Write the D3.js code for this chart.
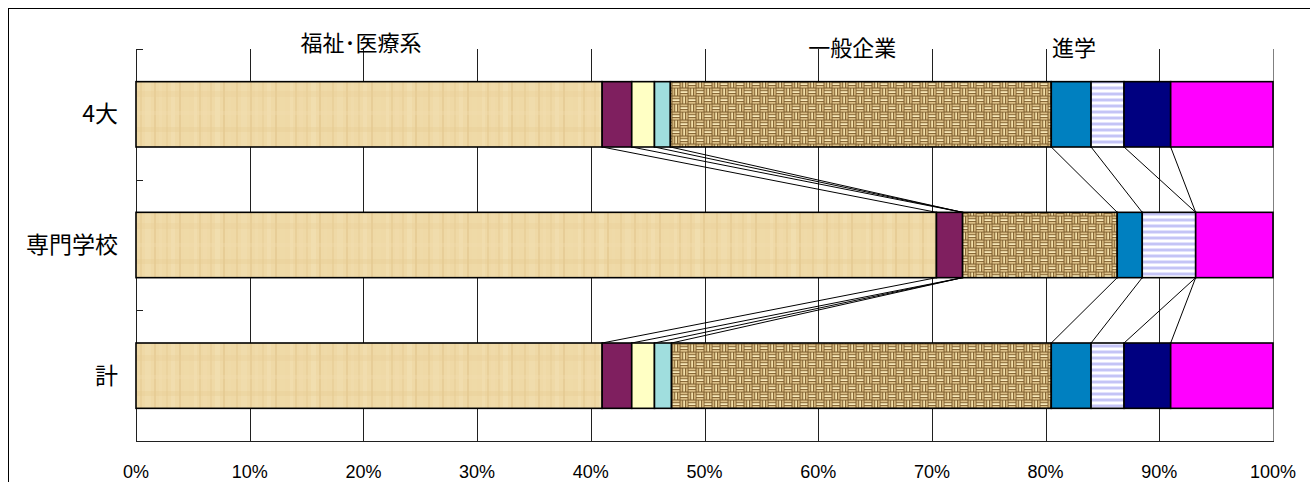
<!DOCTYPE html>
<html><head><meta charset="utf-8">
<script src="https://cdn.jsdelivr.net/npm/d3@7"></script>
<style>
html,body{margin:0;padding:0;background:#fff;}
svg{display:block;}
text{font-family:"Noto Sans CJK JP","Noto Sans",sans-serif;fill:#000;}
text.num{font-family:"Liberation Sans",Arial,sans-serif;}
</style></head>
<body>
<svg id="chart" width="1310" height="482"></svg>
<script>
// ---- data ----
const categories = ["4大", "専門学校", "計"];
const seriesKeys = ["福祉施設", "病院", "保育", "その他福祉", "一般企業", "大学", "専門学校", "その他進学", "その他"];
const values4dai   = [41.0, 2.6, 2.0, 1.4, 33.5, 3.5, 2.9, 4.1, 9.0];
const valuesSenmon = [70.4, 2.3, 0.0, 0.0, 13.6, 2.2, 4.7, 0.0, 6.8];
const valuesTotal  = [41.0, 2.6, 2.0, 1.5, 33.4, 3.5, 2.9, 4.1, 9.0];
const tickLabels = ["0%","10%","20%","30%","40%","50%","60%","70%","80%","90%","100%"];
const groupLabels = ["福祉･医療系", "一般企業", "進学"];
const groupLabelPos = [19.8, 63.0, 82.5];

// ---- styles ----
const fills = ["url(#wood)", "#7F1F5F", "#FFFFC4", "#A0DEDE", "url(#burlap)", "#0080C0", "url(#stripe)", "#000080", "#FF00FF"];

const svg = d3.select("#chart");
const mLeft = 136, mRight = 1273, mTop = 49, mBottom = 441;

// frame
svg.append("rect").attr("x", 8.5).attr("y", 8.5).attr("width", 1400).attr("height", 600)
  .attr("fill", "none").attr("stroke", "#000").attr("stroke-width", 1);

// patterns
const defs = svg.append("defs");
const wood = defs.append("pattern").attr("id", "wood").attr("patternUnits", "userSpaceOnUse")
  .attr("width", 96).attr("height", 66).attr("y", 81);
wood.append("rect").attr("width", 96).attr("height", 66).attr("fill", "#EFD9A6");
const woodStripes = [[2,3,"#F4E2B6"],[7,2,"#E3C68C"],[11,4,"#F2DDAE"],[18,2,"#E6CA92"],[23,5,"#F5E4BA"],[31,2,"#DEBF84"],[36,3,"#F1DCAB"],[44,2,"#E4C78E"],[49,6,"#F3E1B4"],[58,2,"#E0C288"],[63,3,"#F2DEAF"],[70,2,"#E7CC95"],[75,4,"#F4E3B8"],[83,2,"#DFC086"],[88,5,"#F1DBA9"]];
woodStripes.forEach(s => wood.append("rect").attr("x", s[0]).attr("y", 0).attr("width", s[1]).attr("height", 66).attr("fill", s[2]).attr("opacity", 0.45));
[[10,6,"#E8CD96"],[30,4,"#F3E0B2"],[46,5,"#E6CA90"]].forEach(s => wood.append("rect").attr("x", 0).attr("y", s[0]).attr("width", 96).attr("height", s[1]).attr("fill", s[2]).attr("opacity", 0.3));

const burlap = defs.append("pattern").attr("id", "burlap").attr("patternUnits", "userSpaceOnUse")
  .attr("width", 16).attr("height", 16);
burlap.append("rect").attr("width", 16).attr("height", 16).attr("fill", "#7E5E2E");
// horizontal strand blocks
[[0,0],[8,8]].forEach(o => {
  [0.5, 3.2, 5.9].forEach((dy, k) => burlap.append("rect").attr("x", o[0] + 0.5).attr("y", o[1] + dy)
    .attr("width", 7).attr("height", 1.8).attr("fill", k === 1 ? "#F6E6B6" : "#DCC088"));
});
// vertical strand blocks
[[8,0],[0,8]].forEach(o => {
  [0.5, 3.2, 5.9].forEach((dx, k) => burlap.append("rect").attr("x", o[0] + dx).attr("y", o[1] + 0.5)
    .attr("width", 1.8).attr("height", 7).attr("fill", k === 1 ? "#F2DFA8" : "#D2B47A"));
});

const stripe = defs.append("pattern").attr("id", "stripe").attr("patternUnits", "userSpaceOnUse")
  .attr("width", 6).attr("height", 6);
stripe.append("rect").attr("width", 6).attr("height", 6).attr("fill", "#FFFFFF");
stripe.append("rect").attr("y", 2).attr("width", 6).attr("height", 1).attr("fill", "#E2E2FC");
stripe.append("rect").attr("y", 3).attr("width", 6).attr("height", 2).attr("fill", "#C4C4F6");
stripe.append("rect").attr("y", 5).attr("width", 6).attr("height", 1).attr("fill", "#E2E2FC");

// scales
const x = d3.scaleLinear().domain([0, 100]).range([mLeft, mRight]);
const y = d3.scaleBand().domain(categories).range([mTop, mBottom]).paddingInner(0.5).paddingOuter(0.25);

// grid lines
const ticks = d3.range(0, 101, 10);
svg.append("g").selectAll("line").data(ticks.slice(1)).join("line")
  .attr("x1", d => Math.round(x(d)) + 0.5).attr("x2", d => Math.round(x(d)) + 0.5)
  .attr("y1", mTop).attr("y2", mBottom)
  .attr("stroke", d => d === 100 ? "#808080" : "#202020").attr("stroke-width", 1);

// axis lines
svg.append("line").attr("x1", mLeft + 0.5).attr("x2", mLeft + 0.5).attr("y1", mTop).attr("y2", mBottom)
  .attr("stroke", "#202020");
svg.append("line").attr("x1", mLeft).attr("x2", mRight + 1).attr("y1", mBottom + 0.5).attr("y2", mBottom + 0.5)
  .attr("stroke", "#202020");
const sepY = [mTop, mTop + y.step(), mTop + 2 * y.step(), mBottom];
svg.append("g").selectAll("line").data(sepY).join("line")
  .attr("x1", mLeft).attr("x2", mLeft + 7)
  .attr("y1", d => Math.round(d) + 0.5).attr("y2", d => Math.round(d) + 0.5)
  .attr("stroke", "#202020");

// stacked data
const rows = [values4dai, valuesSenmon, valuesTotal].map((vals, i) => {
  let acc = 0;
  return { cat: categories[i], segs: vals.map((v, j) => { const s = { key: seriesKeys[j], x0: acc, x1: acc + v, idx: j }; acc += v; return s; }) };
});

// connector lines between bars
for (let r = 0; r < rows.length - 1; r++) {
  const a = rows[r], b = rows[r + 1];
  for (let j = 0; j < seriesKeys.length - 1; j++) {
    svg.append("line")
      .attr("x1", x(a.segs[j].x1)).attr("y1", y(a.cat) + y.bandwidth())
      .attr("x2", x(b.segs[j].x1)).attr("y2", y(b.cat))
      .attr("stroke", "#000").attr("stroke-width", 1);
  }
}

// bars
rows.forEach(row => {
  svg.append("g").selectAll("rect").data(row.segs.filter(s => s.x1 - s.x0 > 0)).join("rect")
    .attr("x", s => x(s.x0)).attr("width", s => x(s.x1) - x(s.x0))
    .attr("y", y(row.cat)).attr("height", y.bandwidth())
    .attr("fill", s => fills[s.idx])
    .attr("stroke", "#000").attr("stroke-width", 1.6);
});

// category labels
svg.append("g").selectAll("text").data(categories).join("text")
  .attr("x", 118).attr("y", d => y(d) + y.bandwidth() / 2 + 8)
  .attr("text-anchor", "end").attr("font-size", 23).text(d => d);

// x tick labels
svg.append("g").selectAll("text").data(tickLabels).join("text")
  .attr("class", "num")
  .attr("x", (d, i) => x(ticks[i])).attr("y", 478)
  .attr("text-anchor", "middle").attr("font-size", 18).text(d => d);

// group labels
svg.append("g").selectAll("text").data(groupLabels).join("text")
  .attr("x", (d, i) => x(groupLabelPos[i])).attr("y", (d, i) => i === 0 ? 51 : 56)
  .attr("text-anchor", "middle").attr("font-size", 22).text(d => d);
</script>
</body></html>
